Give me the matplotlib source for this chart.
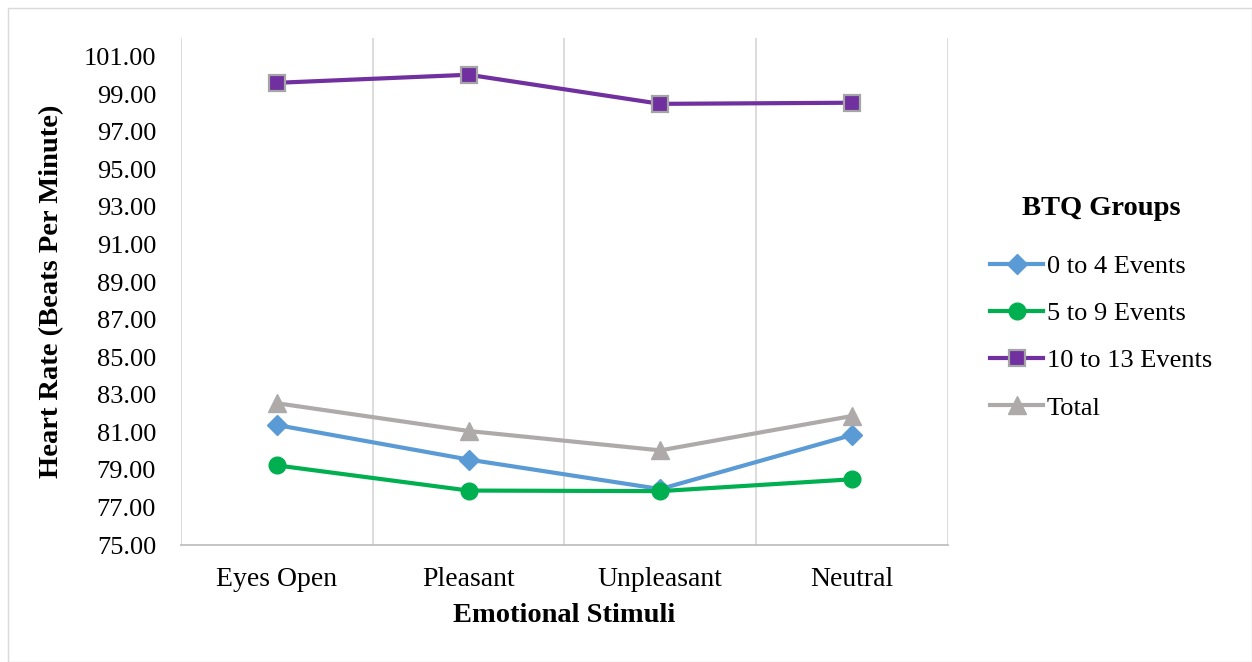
import matplotlib.pyplot as plt
from matplotlib.patches import Rectangle

plt.rcParams['font.family'] = ['Liberation Serif', 'DejaVu Serif']

stimuli = ['Eyes Open', 'Pleasant', 'Unpleasant', 'Neutral']
low = [81.39, 79.55, 77.98, 80.86]        # 0 to 4 events
mid = [79.24, 77.90, 77.87, 78.50]        # 5 to 9 events
high = [99.61, 100.04, 98.49, 98.55]      # 10 to 13 events
total = [82.55, 81.07, 80.04, 81.87]
yticks = [75 + 2 * i for i in range(14)]

fig = plt.figure(figsize=(12.52, 6.62), dpi=100)
fig.patches.append(Rectangle((0.006, 0.0), 0.994, 0.988, transform=fig.transFigure,
                             fill=False, edgecolor='#d9d9d9', lw=1.0))
ax = fig.add_axes([0.1446, 0.1767, 0.6125, 0.766])

x = [i + 0.5 for i in range(len(stimuli))]
ax.plot(x, low, color='#5B9BD5', lw=3, marker='D', ms=10, mec='#5B9BD5', label='0 to 4 Events')
ax.plot(x, mid, color='#00B050', lw=3, marker='o', ms=12, mec='#00B050', label='5 to 9 Events')
ax.plot(x, high, color='#7030A0', lw=3, marker='s', ms=12, mec='#A5A5A5', mew=1.6, label='10 to 13 Events')
ax.plot(x, total, color='#AEAAAA', lw=3, marker='^', ms=13, mec='#AEAAAA', label='Total')

ax.set_xlim(0, 4)
ax.set_ylim(75, 102)
ax.set_yticks(yticks)
ax.set_yticklabels(['%.2f' % v for v in yticks], fontsize=19)
ax.set_xticks(x)
ax.set_xticklabels(stimuli, fontsize=20)
ax.tick_params(axis='y', length=0, pad=18)
ax.tick_params(axis='x', length=0, pad=16)

# category separators
ax.set_xticks([0, 1, 2, 3, 4], minor=True)
ax.grid(True, which='minor', axis='x', color='#d9d9d9', lw=1.3)
ax.tick_params(which='minor', length=0)
for side in ['top', 'right', 'left']:
    ax.spines[side].set_visible(False)
ax.spines['bottom'].set_color('#bfbfbf')
ax.spines['bottom'].set_linewidth(1.3)

ax.set_xlabel('Emotional Stimuli', fontsize=20.5, fontweight='bold', labelpad=8)
ax.set_ylabel('Heart Rate (Beats Per Minute)', fontsize=20.5, fontweight='bold', labelpad=14)

leg = fig.legend(loc='center left', bbox_to_anchor=(0.772, 0.535), frameon=False,
                 title='BTQ Groups', fontsize=19, title_fontproperties={'weight': 'bold', 'size': 20.5},
                 handlelength=2.0, handletextpad=0.15, labelspacing=0.9)
leg._legend_box.sep = 24

fig.savefig('out.png', dpi=100)
